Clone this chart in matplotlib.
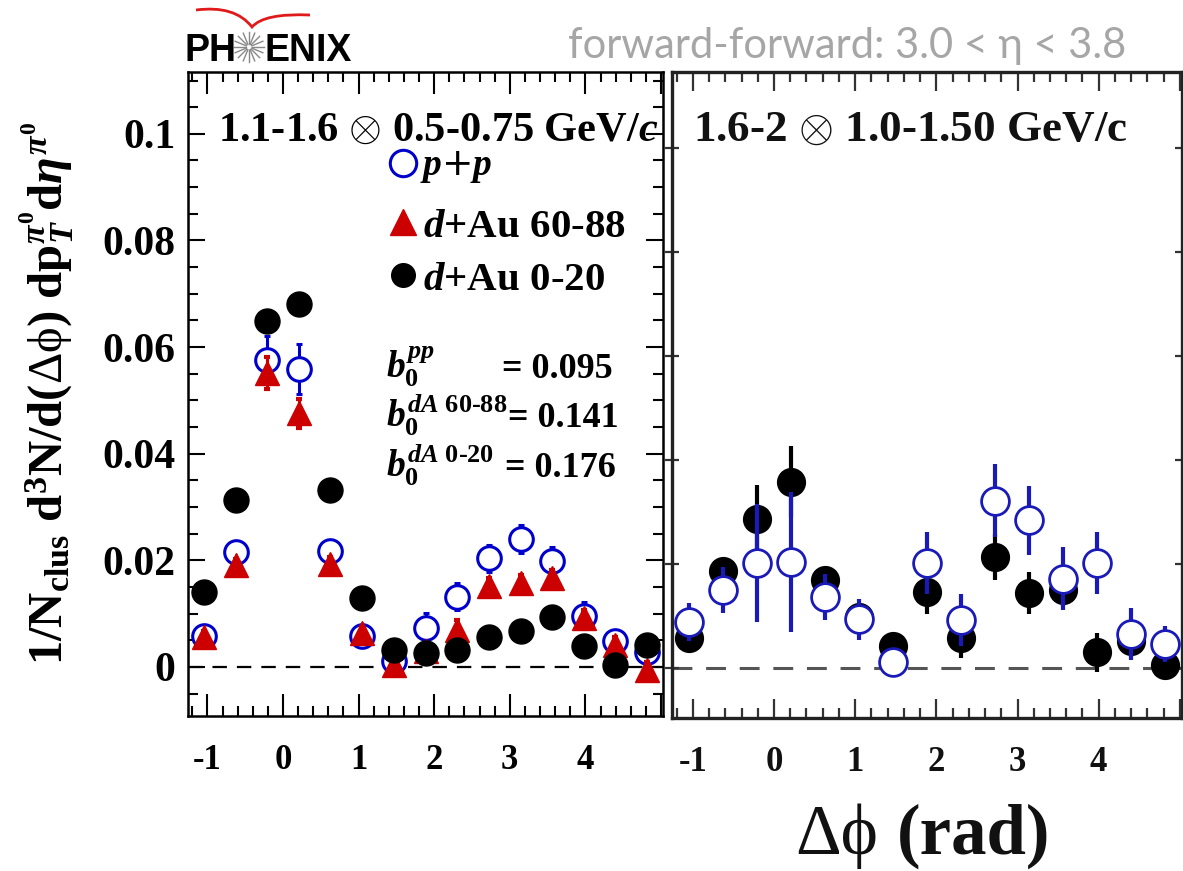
import numpy as np
import matplotlib
matplotlib.use('Agg')
import matplotlib.pyplot as plt
from matplotlib.ticker import MultipleLocator, FixedLocator
from matplotlib.path import Path
from matplotlib.patches import PathPatch

plt.rcParams['mathtext.fontset'] = 'custom'
plt.rcParams['mathtext.rm'] = 'Liberation Serif:bold'
plt.rcParams['mathtext.it'] = 'Liberation Serif:italic:bold'
plt.rcParams['mathtext.bf'] = 'Liberation Serif:bold'
plt.rcParams['mathtext.sf'] = 'Liberation Serif'
SERIF = ['Liberation Serif', 'DejaVu Serif']

# ---- data ----
dphi = [-1.047, -0.628, -0.209, 0.209, 0.628, 1.047, 1.466, 1.885,
        2.304, 2.723, 3.142, 3.560, 3.979, 4.398, 4.817]

# left panel: 1.1-1.6 x 0.5-0.75 GeV/c
pp = [0.0058, 0.0215, 0.0576, 0.0559, 0.0218, 0.0059, 0.0012, 0.0074,
      0.0132, 0.0204, 0.0240, 0.0199, 0.0096, 0.0048, 0.0028]
pp_err = [0.0010, 0.0020, 0.0045, 0.0047, 0.0020, 0.0010, 0.0010, 0.0027,
          0.0025, 0.0025, 0.0027, 0.0026, 0.0025, 0.0020, 0.0015]
dau_periph = [0.0057, 0.0191, 0.0551, 0.0476, 0.0194, 0.0063, 0.0004, 0.0029,
              0.0069, 0.0151, 0.0157, 0.0166, 0.0091, 0.0041, -0.0006]
periph_err = [0.0010, 0.0012, 0.0030, 0.0027, 0.0012, 0.0012, 0.0012, 0.0015,
              0.0020, 0.0015, 0.0015, 0.0015, 0.0015, 0.0015, 0.0015]
dau_central = [0.0141, 0.0313, 0.0648, 0.0681, 0.0332, 0.0129, 0.0032, 0.0026,
               0.0032, 0.0056, 0.0068, 0.0093, 0.0040, 0.0004, 0.0041]
central_err = [0.0008] * 15

# right panel: 1.6-2 x 1.0-1.50 GeV/c (no y labels in the original)
r_pp = [0.00445, 0.0075, 0.0101, 0.0102, 0.00686, 0.00468, 0.0006, 0.0101,
        0.00462, 0.0161, 0.0142, 0.0086, 0.0101, 0.0033, 0.0023]
r_pp_err = [0.0018, 0.0022, 0.0057, 0.0067, 0.0022, 0.0020, 0.0012, 0.0030,
            0.0025, 0.0035, 0.0033, 0.0030, 0.0030, 0.0025, 0.0017]
r_dau = [0.00285, 0.0093, 0.0143, 0.0179, 0.0085, 0.0049, 0.0021, 0.0073,
         0.00285, 0.0107, 0.0072, 0.0075, 0.0015, 0.0026, 0.0003]
r_dau_err = [0.0010, 0.0012, 0.0033, 0.0034, 0.0012, 0.0010, 0.0010, 0.0021,
             0.0019, 0.0022, 0.0020, 0.0015, 0.0019, 0.0015, 0.0010]

b0_labels = [r'$b_0^{pp}$', r'$b_0^{dA\ 60\text{-}88}$', r'$b_0^{dA\ 0\text{-}20}$']
b0_values = ['= 0.095', '= 0.141', '= 0.176']

W, H = 1183, 871
fig = plt.figure(figsize=(W / 100, H / 100), dpi=100)


def fx(px):
    return px / W


def fy(py):
    return 1 - py / H


# overlay for logo
ov = fig.add_axes([0, 0, 1, 1])
ov.set_xlim(0, W)
ov.set_ylim(H, 0)
ov.axis('off')

axL = fig.add_axes([fx(188), fy(716), fx(663) - fx(188), fy(72) - fy(716)])
axR = fig.add_axes([fx(672), fy(718), fx(1182) - fx(672), fy(72) - fy(718)])

xlim = (-0.4 * np.pi, 1.6 * np.pi)

# ---- left panel ----
axL.errorbar(dphi, pp, yerr=pp_err, fmt='o', ms=17, mfc='white', mec='#0000cc',
             mew=2.2, ecolor='#0000cc', elinewidth=2.2, capsize=2.5, capthick=3, zorder=3)
axL.errorbar(dphi, dau_periph, yerr=periph_err, fmt='^', ms=17, color='#cc0000',
             ecolor='#cc0000', elinewidth=2.2, capsize=2.5, capthick=3, zorder=4)
axL.errorbar(dphi, dau_central, yerr=central_err, fmt='o', ms=18, color='black',
             ecolor='black', elinewidth=2, zorder=5)
axL.axhline(0, color='black', lw=1.6, ls=(0, (6.5, 4.5)), zorder=1)

axL.set_xlim(*xlim)
axL.set_ylim(-0.0092, 0.1116)
axL.xaxis.set_major_locator(FixedLocator([-1, 0, 1, 2, 3, 4, 5]))
axL.xaxis.set_minor_locator(MultipleLocator(0.2))
axL.set_xticklabels(['-1', '0', '1', '2', '3', '4', ''])
axL.yaxis.set_major_locator(FixedLocator([0, 0.02, 0.04, 0.06, 0.08, 0.1]))
axL.yaxis.set_minor_locator(MultipleLocator(0.005))
axL.set_yticklabels(['0', '0.02', '0.04', '0.06', '0.08', '0.1'])
for sp in axL.spines.values():
    sp.set_linewidth(1.8)
axL.tick_params(which='both', direction='in', top=True, right=True, width=1.5)
axL.tick_params(which='major', length=12)
axL.tick_params(which='minor', length=7)
axL.tick_params(axis='x', which='major', length=16, pad=20)
axL.tick_params(axis='y', which='major', pad=9)
for lab in axL.get_xticklabels():
    lab.set_fontfamily(SERIF)
    lab.set_fontweight('bold')
    lab.set_fontsize(25)
for lab in axL.get_yticklabels():
    lab.set_fontfamily(SERIF)
    lab.set_fontweight('bold')
    lab.set_fontsize(30)


def ax_xy(px, py):
    return ((px - 188) / 475, (716 - py) / 644)


axL.text(*ax_xy(218, 141), r'1.1-1.6 $\otimes$ 0.5-0.75 GeV/$\mathit{c}$',
         transform=axL.transAxes, fontfamily=SERIF, fontweight='bold', fontsize=30.5,
         va='baseline', ha='left')

# legend
axL.plot(*ax_xy(403, 163), 'o', ms=19, mfc='white', mec='#0000cc', mew=2.2,
         transform=axL.transAxes, clip_on=False)
axL.plot(*ax_xy(403, 222), '^', ms=19, color='#cc0000',
         transform=axL.transAxes, clip_on=False)
axL.plot(*ax_xy(403, 275), 'o', ms=17, color='black',
         transform=axL.transAxes, clip_on=False)
axL.text(*ax_xy(420, 175), r'$p$+$p$', transform=axL.transAxes, fontsize=27,
         va='baseline', ha='left')
axL.text(*ax_xy(423, 237), r'$d$+Au 60-88', transform=axL.transAxes, fontsize=29.5,
         fontfamily=SERIF, fontweight='bold', va='baseline', ha='left')
axL.text(*ax_xy(423, 290), r'$d$+Au 0-20', transform=axL.transAxes, fontsize=29.5,
         fontfamily=SERIF, fontweight='bold', va='baseline', ha='left')

for lbl, val, base, vx in zip(b0_labels, b0_values, [378, 427, 477], [502, 508, 505]):
    axL.text(*ax_xy(386, base), lbl, transform=axL.transAxes, fontsize=27,
             va='baseline', ha='left')
    axL.text(*ax_xy(vx, base), val, transform=axL.transAxes, fontsize=26,
             fontfamily=SERIF, fontweight='bold', va='baseline', ha='left')

# ---- right panel ----
axR.errorbar(dphi, r_dau, yerr=r_dau_err, fmt='o', ms=20, color='black',
             ecolor='black', elinewidth=3, zorder=3)
axR.errorbar(dphi, r_pp, yerr=r_pp_err, fmt='o', ms=20, mfc='white', mec='#1a1ab8',
             mew=2, ecolor='#1a1ab8', elinewidth=3, zorder=4)
axR.axhline(0, color='#555555', lw=2.2, ls=(0, (6.5, 4.5)), zorder=1)
axR.set_xlim(*xlim)
axR.set_ylim(-0.0048, 0.0573)
axR.xaxis.set_major_locator(FixedLocator([-1, 0, 1, 2, 3, 4, 5]))
axR.xaxis.set_minor_locator(MultipleLocator(0.2))
axR.set_xticklabels(['-1', '0', '1', '2', '3', '4', ''])
axR.yaxis.set_major_locator(MultipleLocator(0.01))
axR.set_yticklabels([])
for sp in axR.spines.values():
    sp.set_linewidth(2.4)
    sp.set_color('#222222')
axR.tick_params(which='both', direction='in', top=True, right=True, width=1.6,
                color='#333333')
axR.tick_params(which='major', length=14)
axR.tick_params(which='minor', length=7)
axR.tick_params(axis='x', which='major', pad=20)
axR.tick_params(axis='y', which='major', length=10, direction='inout')
for lab in axR.get_xticklabels():
    lab.set_fontfamily(SERIF)
    lab.set_fontweight('bold')
    lab.set_fontsize(25)
    lab.set_color('#111111')
axR.text((693 - 672) / 510, (718 - 141) / 646, '1.6-2 $\\otimes$ 1.0-1.50 GeV/c',
         transform=axR.transAxes, fontfamily=SERIF, fontweight='bold', fontsize=32.5,
         va='baseline', ha='left', color='#111111')

# ---- axis titles ----
fig.text(fx(47), fy(393),
         r'$\mathrm{1/N_{clus}\ d^{3}N/d(}\mathsf{\Delta\phi}\mathrm{)\ dp}_{\mathit{T}}^{\pi^{0}}'
         r'\mathrm{d}\eta^{\pi^{0}}$',
         rotation=90, ha='center', va='center', fontsize=35)
fig.text(fx(795), fy(854), '\u0394\u03d5', fontfamily=SERIF, fontsize=51,
         ha='left', va='baseline', color='#111111')
fig.text(fx(897), fy(854), '(rad)', fontfamily=SERIF, fontweight='bold', fontsize=51,
         ha='left', va='baseline', color='#111111')

# ---- header: PHENIX logo and eta range ----
ov.text(185, 61, 'PH', fontfamily='Liberation Sans', fontweight='bold', fontsize=27,
        ha='left', va='baseline', color='black')
ov.text(265, 61, 'ENIX', fontfamily='Liberation Sans', fontweight='bold', fontsize=27,
        ha='left', va='baseline', color='black')
for ang in np.linspace(0, 2 * np.pi, 16, endpoint=False):
    ov.plot([249 + 3 * np.cos(ang), 249 + 15 * np.cos(ang)],
            [47 + 3 * np.sin(ang), 47 + 15 * np.sin(ang)], color='#888888', lw=1)
swoosh = Path([(196, 10), (235, 5), (252, 27), (264, 13), (310, 15)],
              [Path.MOVETO, Path.CURVE3, Path.CURVE3, Path.CURVE3, Path.CURVE3])
ov.add_patch(PathPatch(swoosh, fill=False, edgecolor='#e01a1a', lw=2))
ov.text(568, 58, 'forward-forward: 3.0 < \u03b7 < 3.8', fontfamily=['Lato', 'DejaVu Sans'],
        fontsize=30, color='#a6a6a6', ha='left', va='baseline')

fig.savefig('out.png', dpi=100)
